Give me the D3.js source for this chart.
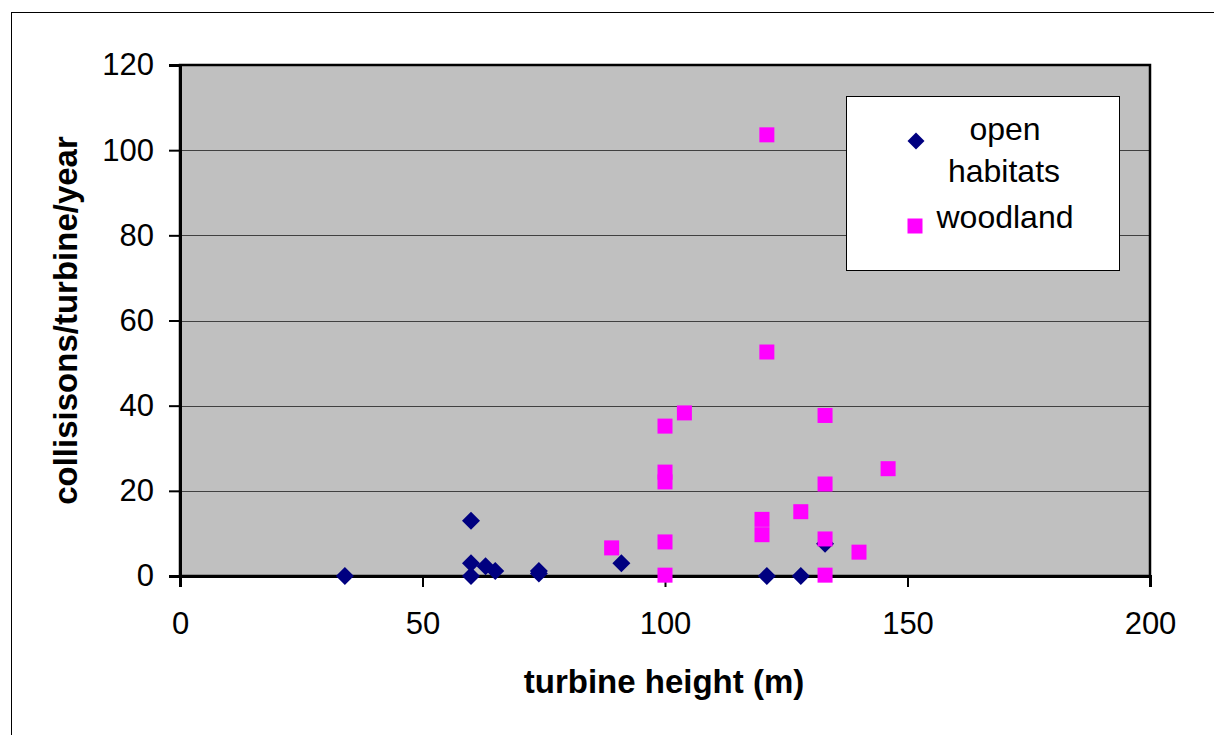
<!DOCTYPE html>
<html>
<head>
<meta charset="utf-8">
<script src="https://cdn.jsdelivr.net/npm/d3@7"></script>
<style>
  html, body { margin: 0; padding: 0; background: #fff; }
  svg { display: block; }
  text { font-family: "Liberation Sans", Arial, sans-serif; fill: #000; }
</style>
</head>
<body>
<svg id="chart" width="1214" height="735"></svg>
<script>
// ---- data ----
const openX = [34, 60, 60, 60, 63, 65, 74, 74, 91, 121, 128, 133];
const openY = [0, 13, 3, 0, 2.3, 1.2, 1.2, 0.6, 3, 0, 0, 7.6];
const woodX = [89, 100, 104, 100, 100, 100, 100, 121, 121, 120, 120, 128, 133, 133, 133, 133, 140, 146];
const woodY = [6.6, 35.2, 38.3, 24.4, 22.1, 8.0, 0.2, 103.6, 52.6, 13.3, 9.7, 15.1, 37.7, 21.6, 8.7, 0.2, 5.6, 25.2];
const xTicks = [0, 50, 100, 150, 200];
const yTicks = [0, 20, 40, 60, 80, 100, 120];
const seriesNames = ["open habitats", "woodland"];
const xTitle = "turbine height (m)";
const yTitle = "collisisons/turbine/year";

const svg = d3.select("#chart");

// outer chart border (extends past right/bottom edge)
svg.append("rect").attr("x", 11.5).attr("y", 12.5).attr("width", 1240).attr("height", 760)
  .attr("fill", "#fff").attr("stroke", "#000").attr("stroke-width", 1);

const L = 180, R = 1150, T = 65, B = 576;
const x = d3.scaleLinear().domain([0, 200]).range([L, R]);
const y = d3.scaleLinear().domain([0, 120]).range([B, T]);

// plot area
svg.append("rect").attr("x", L).attr("y", T).attr("width", R - L).attr("height", B - T)
  .attr("fill", "#C0C0C0");

// gridlines
svg.append("g").selectAll("line").data(yTicks.filter(d => d > 0 && d < 120)).join("line")
  .attr("x1", L).attr("x2", R).attr("y1", d => Math.round(y(d)) + 0.5).attr("y2", d => Math.round(y(d)) + 0.5)
  .attr("stroke", "#404040").attr("stroke-width", 1);

// plot border
svg.append("rect").attr("x", L).attr("y", T).attr("width", R - L).attr("height", B - T)
  .attr("fill", "none").attr("stroke", "#000").attr("stroke-width", 2.5);

// axes
const xAxis = d3.axisBottom(x).tickValues(xTicks).tickSize(11).tickPadding(25).tickFormat(d3.format("d"));
const gx = svg.append("g").attr("transform", `translate(0,${B})`).call(xAxis);
gx.select(".domain").attr("stroke", "#000").attr("stroke-width", 3);
gx.selectAll(".tick line").attr("stroke", "#000").attr("stroke-width", 2);
gx.selectAll(".tick text").attr("font-size", 31).attr("font-family", "Liberation Sans, Arial, sans-serif").attr("fill", "#000");

const yAxis = d3.axisLeft(y).tickValues(yTicks).tickSize(11).tickPadding(15).tickFormat(d3.format("d"));
const gy = svg.append("g").attr("transform", `translate(${L},0)`).call(yAxis);
gy.select(".domain").attr("stroke", "#000").attr("stroke-width", 3);
gy.selectAll(".tick line").attr("stroke", "#000").attr("stroke-width", 2);
gy.selectAll(".tick text").attr("font-size", 31).attr("font-family", "Liberation Sans, Arial, sans-serif").attr("fill", "#000");

// axis titles
svg.append("text").attr("x", 664).attr("y", 693).attr("text-anchor", "middle")
  .attr("font-size", 33).attr("font-weight", "bold").text(xTitle);
svg.append("text").attr("transform", `translate(77,${(T + B) / 2}) rotate(-90)`).attr("text-anchor", "middle")
  .attr("font-size", 33).attr("font-weight", "bold").text(yTitle);

// markers
const diamond = s => `M0,${-s}L${s},0L0,${s}L${-s},0Z`;
const openData = openX.map((v, i) => [v, openY[i]]);
const woodData = woodX.map((v, i) => [v, woodY[i]]);

svg.append("g").selectAll("path").data(openData).join("path")
  .attr("transform", d => `translate(${x(d[0])},${y(d[1])})`)
  .attr("d", diamond(9)).attr("fill", "#000080");

svg.append("g").selectAll("rect").data(woodData).join("rect")
  .attr("x", d => x(d[0]) - 7.5).attr("y", d => y(d[1]) - 7.5)
  .attr("width", 15).attr("height", 15).attr("fill", "#FF00FF");

// legend
const lg = svg.append("g");
lg.append("rect").attr("x", 846.5).attr("y", 96.5).attr("width", 273).attr("height", 174)
  .attr("fill", "#fff").attr("stroke", "#000").attr("stroke-width", 1);
lg.append("path").attr("transform", "translate(916,141)").attr("d", diamond(8.5)).attr("fill", "#000080");
lg.append("rect").attr("x", 907.5).attr("y", 218.5).attr("width", 15).attr("height", 15).attr("fill", "#FF00FF");
const words = seriesNames[0].split(" ");
lg.append("text").attr("x", 1005).attr("y", 140).attr("text-anchor", "middle").attr("font-size", 32).text(words[0]);
lg.append("text").attr("x", 1004).attr("y", 182).attr("text-anchor", "middle").attr("font-size", 32).text(words[1]);
lg.append("text").attr("x", 1005).attr("y", 228).attr("text-anchor", "middle").attr("font-size", 32).text(seriesNames[1]);
</script>
</body>
</html>
